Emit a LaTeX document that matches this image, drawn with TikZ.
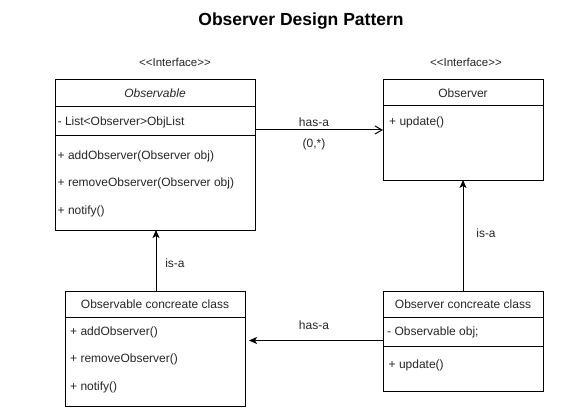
\documentclass[tikz,border=0pt]{standalone}
\usepackage{fontspec}
\setmainfont{Liberation Sans}
\usetikzlibrary{arrows.meta}
\tikzset{
  umlbox/.style={draw, line width=1pt, anchor=north west, inner sep=0pt, outer sep=0pt},
  divider/.style={line width=1pt},
  member/.style={font=\fontsize{12}{14}\selectfont, inner sep=0pt, anchor=mid west, text=black!85},
  ctext/.style={font=\fontsize{12}{14}\selectfont, inner sep=0pt, anchor=mid, text=black!85},
  stereo/.style={font=\fontsize{11.5}{14}\selectfont, inner sep=0pt, anchor=mid, text=black!85},
  conn/.style={line width=1pt},
  openhead/.style={-{Straight Barb[length=7pt,width=8pt,line width=1pt]}},
  filledhead/.style={-{Stealth[length=8pt,width=7pt,inset=2pt]}},
}
\begin{document}
\begin{tikzpicture}[x=1pt,y=-1pt]
\useasboundingbox (0,0) rectangle (570,409);

% Title
\node[font=\fontsize{17.5}{20}\selectfont\bfseries, inner sep=0pt, anchor=mid] (title) at (301,23) {Observer Design Pattern};

% Stereotypes
\node[stereo] (st1) at (175,64) {<\kern0pt<Interface>\kern0pt>};
\node[stereo] (st2) at (466,64) {<\kern0pt<Interface>\kern0pt>};

% Observable (interface)
\node[umlbox, minimum width=200pt, minimum height=150pt] (obs) at (55,80) {};
\draw[divider] (55,107) -- (255,107);
\draw[divider] (55,136) -- (255,136);
\node[ctext, font=\fontsize{12}{14}\selectfont\itshape] (obsT) at (155,95) {Observable};
\node[member] (obsA) at (57.5,123) {- List<Observer>ObjList};
\node[member] (obsM1) at (57.5,157) {+ addObserver(Observer obj)};
\node[member] (obsM2) at (57.5,184) {+ removeObserver(Observer obj)};
\node[member] (obsM3) at (57.5,212) {+ notify()};

% Observer (interface)
\node[umlbox, minimum width=160pt, minimum height=100pt] (obr) at (383,80) {};
\draw[divider] (383,106) -- (543,106);
\node[ctext] (obrT) at (463,95) {Observer};
\node[member] (obrM1) at (389,123) {+ update()};

% Observable concreate class
\node[umlbox, minimum width=180pt, minimum height=115pt] (occ) at (65,291) {};
\draw[divider] (65,317) -- (245,317);
\node[ctext] (occT) at (155,306) {Observable concreate class};
\node[member] (occM1) at (70,332.5) {+ addObserver()};
\node[member] (occM2) at (70,359.5) {+ removeObserver()};
\node[member] (occM3) at (70,388) {+ notify()};

% Observer concreate class
\node[umlbox, minimum width=160pt, minimum height=100pt] (orc) at (383,291) {};
\draw[divider] (383,317) -- (543,317);
\draw[divider] (383,346) -- (543,346);
\node[ctext] (orcT) at (463,306) {Observer concreate class};
\node[member] (orcA) at (387,333) {- Observable obj;};
\node[member] (orcM1) at (388.5,365.5) {+ update()};

% Connectors
\coordinate (hasTop) at (255,130);
\draw[conn, openhead] (hasTop) -- (obr.west |- hasTop);
\node[ctext] (lblHas1) at (314,124) {has-a};
\node[ctext] (lblMult) at (314,145) {(0,*)};

\coordinate (isR) at (463,291);
\draw[conn, filledhead] (isR) -- (obr.south -| isR);
\node[ctext] (lblIs2) at (486,235) {is-a};

\coordinate (isL) at (156,291);
\draw[conn, filledhead] (isL) -- (obs.south -| isL);
\node[ctext] (lblIs1) at (175,265) {is-a};

\coordinate (hasBot) at (383,340.5);
\coordinate (hasBotEnd) at (249,340.5);
\draw[conn, filledhead] (hasBot) -- (hasBotEnd);
\node[ctext] (lblHas2) at (314,327) {has-a};
\end{tikzpicture}
\end{document}
